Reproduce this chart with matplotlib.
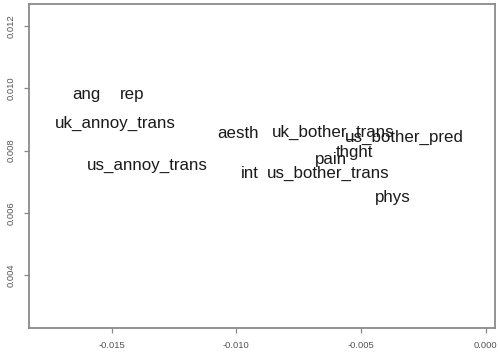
import matplotlib
matplotlib.use("Agg")
import matplotlib.pyplot as plt

# Word positions in the two-dimensional scaling space
labels = ["ang", "rep", "uk_annoy_trans", "us_annoy_trans", "aesth", "int",
          "uk_bother_trans", "us_bother_pred", "thght", "pain",
          "us_bother_trans", "phys"]
dim1 = [-0.01600, -0.01416, -0.01484, -0.01355, -0.00994, -0.00945,
        -0.00610, -0.00326, -0.00526, -0.00620, -0.00633, -0.00372]
dim2 = [0.00985, 0.00985, 0.00894, 0.00757, 0.00860, 0.00732,
        0.00863, 0.00846, 0.00798, 0.00776, 0.00732, 0.00655]

xticks = [-0.015, -0.010, -0.005, 0.000]
yticks = [0.004, 0.006, 0.008, 0.010, 0.012]
xtick_labels = ["-0.015", "-0.010", "-0.005", "0.000"]
ytick_labels = ["0.004", "0.006", "0.008", "0.010", "0.012"]

plt.rcParams["font.family"] = ["Liberation Sans", "DejaVu Sans"]

fig = plt.figure(figsize=(5.0, 3.53), dpi=100)
ax = fig.add_axes([0.058, 0.0708, 0.932, 0.918])

for lab, x, y in zip(labels, dim1, dim2):
    ax.text(x, y, lab, ha="center", va="center_baseline", fontsize=12.2,
            color="#1a1a1a")

ax.set_xlim(-0.01831, 0.000373)
ax.set_ylim(0.002308, 0.01271)

ax.set_xticks(xticks)
ax.set_xticklabels(xtick_labels)
ax.set_yticks(yticks)
ax.set_yticklabels(ytick_labels, rotation=90, va="center")

ax.tick_params(axis="both", labelsize=6.8, labelcolor="#555555",
               color="#888888", length=3.5, width=0.9)
ax.tick_params(axis="x", pad=5.5)
ax.tick_params(axis="y", pad=6.0)

for sp in ax.spines.values():
    sp.set_color("#8a8a8a")
    sp.set_linewidth(1.3)

fig.savefig("out.png", dpi=100)
